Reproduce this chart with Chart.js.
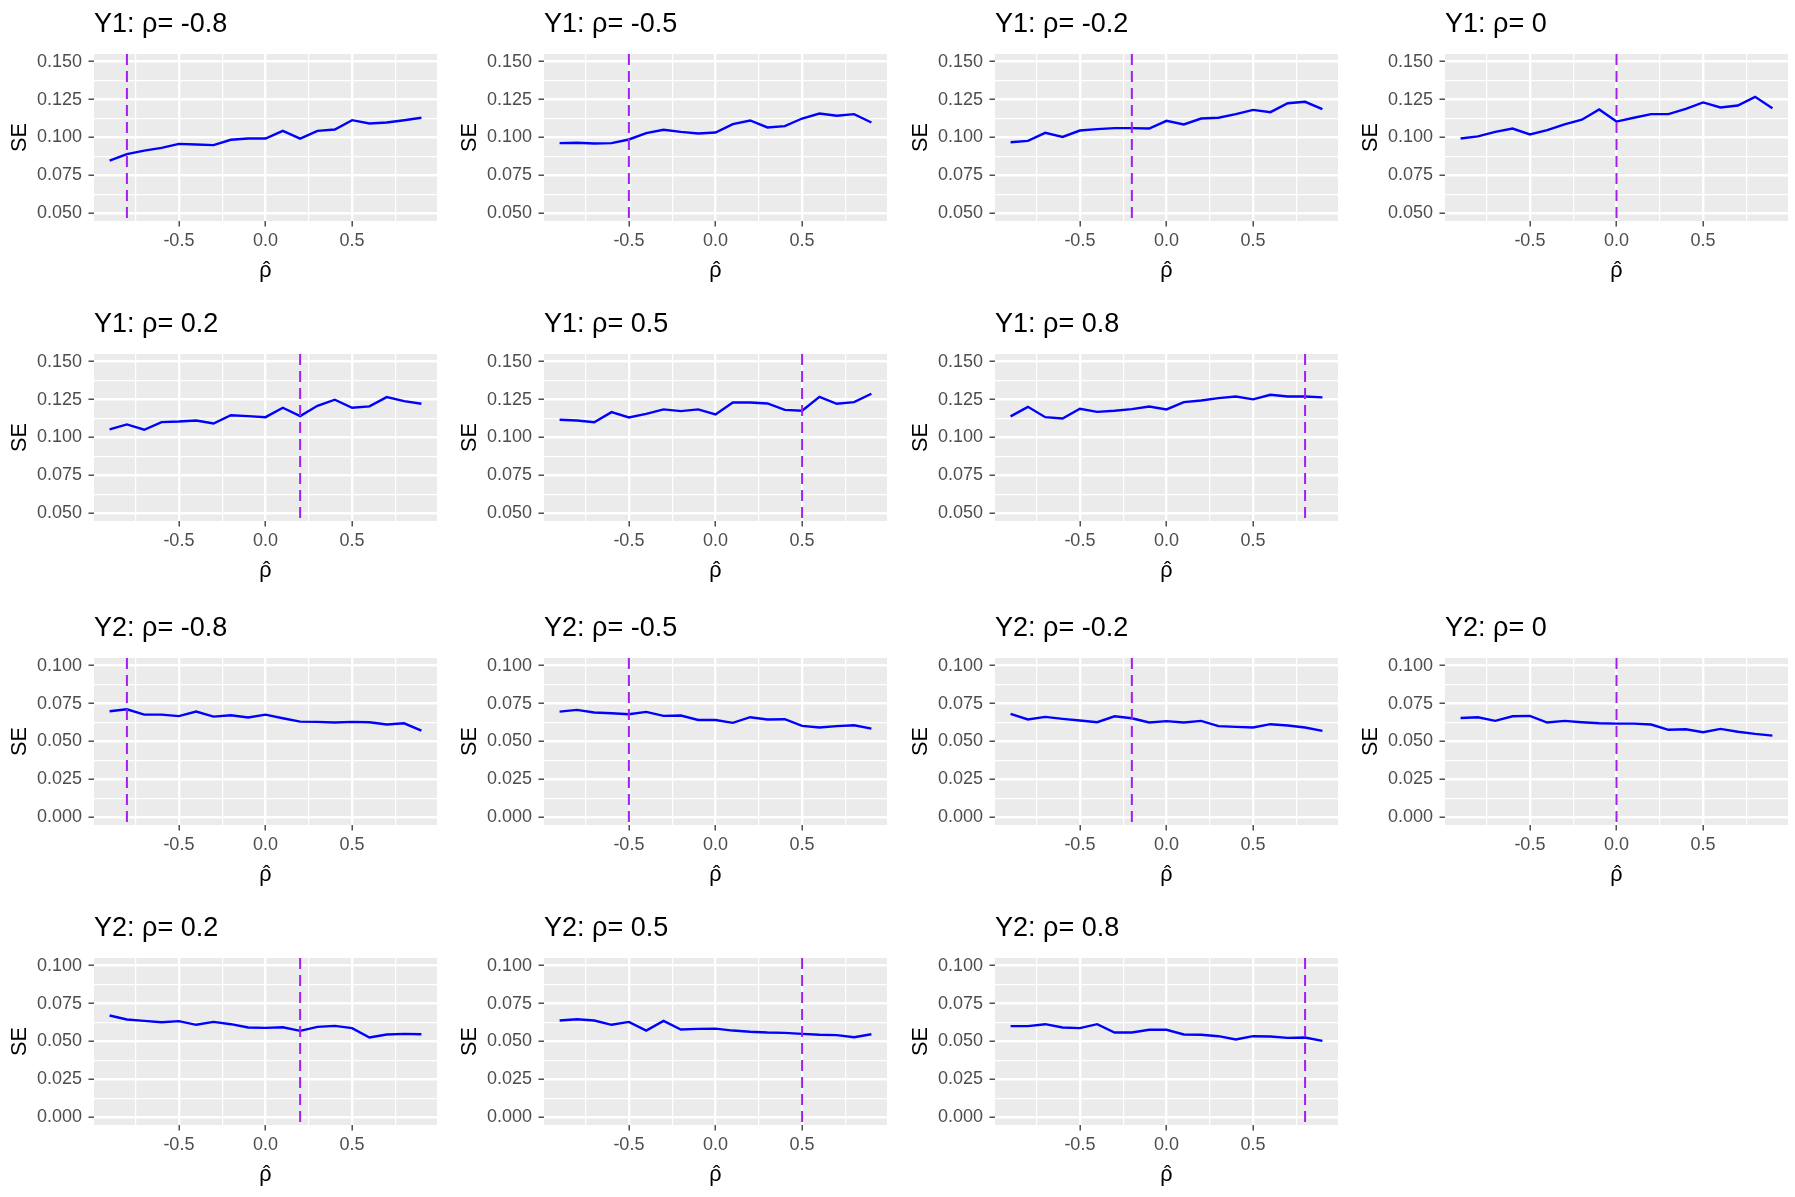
<!DOCTYPE html>
<html>
<head>
<meta charset="utf-8">
<script src="https://cdn.jsdelivr.net/npm/chart.js@4.4.0/dist/chart.umd.min.js"></script>
<style>
  body { margin: 0; background: #fff; overflow: hidden; width: 1795px; height: 1197px; position: relative; }
  .panel { position: absolute; width: 443px; height: 290px; }
</style>
</head>
<body>
<script>
// x values (estimated rho) shared by every panel
var rhoHat = [-0.9, -0.8, -0.7, -0.6, -0.5, -0.4, -0.3, -0.2, -0.1, 0, 0.1, 0.2, 0.3, 0.4, 0.5, 0.6, 0.7, 0.8, 0.9];
var trueRho = [-0.8, -0.5, -0.2, 0, 0.2, 0.5, 0.8];

// SE curves, response Y1
var y1M08 = [0.0848, 0.0890, 0.0914, 0.0932, 0.0958, 0.0954, 0.0950, 0.0985, 0.0993, 0.0993, 0.1044, 0.0993, 0.1044, 0.1053, 0.1114, 0.1092, 0.1099, 0.1114, 0.1130];
var y1M05 = [0.0963, 0.0965, 0.0960, 0.0963, 0.0987, 0.1029, 0.1051, 0.1037, 0.1026, 0.1033, 0.1088, 0.1112, 0.1066, 0.1075, 0.1125, 0.1158, 0.1143, 0.1154, 0.1099];
var y1M02 = [0.0969, 0.0978, 0.1031, 0.1004, 0.1046, 0.1055, 0.1062, 0.1062, 0.1059, 0.1110, 0.1086, 0.1125, 0.1130, 0.1154, 0.1182, 0.1167, 0.1226, 0.1235, 0.1187];
var y1Z = [0.0993, 0.1007, 0.1037, 0.1059, 0.1020, 0.1048, 0.1086, 0.1117, 0.1185, 0.1105, 0.1130, 0.1154, 0.1154, 0.1189, 0.1231, 0.1198, 0.1211, 0.1268, 0.1193];
var y1P02 = [0.1053, 0.1086, 0.1051, 0.1101, 0.1105, 0.1112, 0.1092, 0.1147, 0.1141, 0.1134, 0.1196, 0.1141, 0.1209, 0.1249, 0.1196, 0.1205, 0.1266, 0.1240, 0.1222];
var y1P05 = [0.1117, 0.1112, 0.1101, 0.1167, 0.1132, 0.1156, 0.1185, 0.1174, 0.1185, 0.1152, 0.1231, 0.1231, 0.1224, 0.1182, 0.1176, 0.1268, 0.1222, 0.1233, 0.1288];
var y1P08 = [0.1139, 0.1202, 0.1134, 0.1125, 0.1189, 0.1169, 0.1176, 0.1187, 0.1204, 0.1185, 0.1233, 0.1244, 0.1259, 0.1270, 0.1251, 0.1281, 0.1270, 0.1270, 0.1264];

// SE curves, response Y2
var y2M08 = [0.0699, 0.0712, 0.0677, 0.0677, 0.0667, 0.0697, 0.0664, 0.0673, 0.0658, 0.0677, 0.0653, 0.0631, 0.0629, 0.0625, 0.0629, 0.0627, 0.0612, 0.0620, 0.0572];
var y2M05 = [0.0697, 0.0708, 0.0691, 0.0686, 0.0680, 0.0695, 0.0669, 0.0671, 0.0642, 0.0642, 0.0623, 0.0660, 0.0645, 0.0647, 0.0603, 0.0592, 0.0601, 0.0607, 0.0585];
var y2M02 = [0.0682, 0.0645, 0.0662, 0.0649, 0.0638, 0.0627, 0.0666, 0.0653, 0.0625, 0.0634, 0.0625, 0.0636, 0.0601, 0.0596, 0.0592, 0.0614, 0.0605, 0.0592, 0.0570];
var y2Z = [0.0655, 0.0660, 0.0636, 0.0666, 0.0669, 0.0625, 0.0636, 0.0627, 0.0620, 0.0618, 0.0618, 0.0612, 0.0577, 0.0581, 0.0561, 0.0583, 0.0564, 0.0550, 0.0539];
var y2P02 = [0.0671, 0.0645, 0.0636, 0.0627, 0.0634, 0.0610, 0.0629, 0.0614, 0.0592, 0.0590, 0.0594, 0.0570, 0.0596, 0.0603, 0.0588, 0.0526, 0.0546, 0.0550, 0.0548];
var y2P05 = [0.0638, 0.0647, 0.0638, 0.0610, 0.0629, 0.0572, 0.0636, 0.0579, 0.0583, 0.0585, 0.0572, 0.0564, 0.0559, 0.0557, 0.0550, 0.0544, 0.0542, 0.0528, 0.0548];
var y2P08 = [0.0601, 0.0601, 0.0614, 0.0592, 0.0588, 0.0614, 0.0559, 0.0559, 0.0577, 0.0577, 0.0546, 0.0544, 0.0535, 0.0513, 0.0535, 0.0533, 0.0524, 0.0526, 0.0504];

// tick labels
var xTicks = [-0.5, 0, 0.5];
var y1Ticks = [0.05, 0.075, 0.1, 0.125, 0.15];
var y2Ticks = [0, 0.025, 0.05, 0.075, 0.1];

var y1Series = [y1M08, y1M05, y1M02, y1Z, y1P02, y1P05, y1P08];
var y2Series = [y2M08, y2M05, y2M02, y2Z, y2P02, y2P05, y2P08];

// page layout of the facets
var colLeft = [0, 450, 901, 1351];
var rowTop = [0, 300, 604, 904];
var slots = [[0, 0], [0, 1], [0, 2], [0, 3], [1, 0], [1, 1], [1, 2]];

var FONT = '"Liberation Sans", Arial, Helvetica, sans-serif';
Chart.defaults.font.family = FONT;

// ggplot-like expanded range (5% each side)
function expand(lo, hi) {
    var d = (hi - lo) * 0.05;
    return [lo - d, hi + d];
}

// major ticks plus ggplot minor breaks half-way between them
function withMinor(major, lo, hi) {
    var step = major[1] - major[0];
    var out = [];
    for (var i = -1; i < major.length; i++) {
        if (i >= 0) out.push({value: major[i], minor: false});
        var m = major[0] + (i + 0.5) * step;
        if (m > lo && m < hi) out.push({value: m, minor: true});
    }
    return out;
}

var panelBg = {
    id: 'panelBg',
    beforeDraw: function (chart){
        var a = chart.chartArea, ctx = chart.ctx;
        ctx.save();
        ctx.fillStyle = '#EBEBEB';
        ctx.fillRect(a.left, a.top, a.right - a.left, a.bottom - a.top);
        ctx.restore();
    }
};

var trueLine = {
    id: 'trueLine',
    afterDatasetsDraw: function (chart, args, opts){
        var a = chart.chartArea, ctx = chart.ctx;
        var x = chart.scales.x.getPixelForValue(opts.value);
        ctx.save();
        ctx.beginPath();
        ctx.setLineDash([11, 6]);
        ctx.strokeStyle = '#A020F0';
        ctx.lineWidth = 2;
        ctx.moveTo(x, a.top);
        ctx.lineTo(x, a.bottom);
        ctx.stroke();
        ctx.restore();
    }
};

// facet strip title and the rho-hat axis title
var facetText = {
    id: 'facetText',
    afterDraw: function (chart, args, opts){
        var ctx = chart.ctx, a = chart.chartArea;
        ctx.save();
        ctx.fillStyle = '#000000';
        ctx.textBaseline = 'alphabetic';
        ctx.textAlign = 'left';
        ctx.font = '27px ' + FONT;
        ctx.fillText(opts.text, a.left, 32);
        var cx = (a.left + a.right) / 2;
        ctx.textAlign = 'center';
        ctx.font = '21.6px ' + FONT;
        ctx.fillText('ρ', cx, 277);
        ctx.fillText('ˆ', cx + 1, 277);
        ctx.restore();
    }
};

function gridOpts() {
    return {
        color: '#FFFFFF',
        lineWidth: function (c){ return c.tick && c.tick.minor ? 1.2 : 2.4; },
        tickColor: function (c){ return c.tick && c.tick.minor ? 'rgba(0,0,0,0)' : '#333333'; },
        tickWidth: 1.3,
        tickLength: 5.5,
        drawTicks: true
    };
}

function makePanel(resp, idx, series, yMajor, row0) {
    var slot = slots[idx];
    var div = document.createElement('div');
    div.className = 'panel';
    div.style.left = colLeft[slot[1]] + 'px';
    div.style.top = rowTop[row0 + slot[0]] + 'px';
    var canvas = document.createElement('canvas');
    canvas.width = 443;
    canvas.height = 290;
    div.appendChild(canvas);
    document.body.appendChild(div);

    var xr = expand(rhoHat[0], rhoHat[rhoHat.length - 1]);
    var yr = expand(yMajor[0], yMajor[yMajor.length - 1]);
    var xAll = withMinor(xTicks, xr[0], xr[1]);
    var yAll = withMinor(yMajor, yr[0], yr[1]);

    var pts = rhoHat.map(function (x, i){ return {x: x, y: series[i]}; });

    new Chart(canvas, {
        type: 'line',
        data: {
            datasets: [{
                data: pts,
                borderColor: '#0000FF',
                borderWidth: 2.4,
                pointRadius: 0,
                tension: 0,
                fill: false
            }]
        },
        options: {
            responsive: false,
            animation: false,
            devicePixelRatio: 1,
            layout: {
                padding: {top: 54, right: 6, bottom: 0, left: 0}
            },
            plugins: {
                legend: {display: false},
                tooltip: {enabled: false},
                trueLine: {value: trueRho[idx]},
                facetText: {text: resp + ': ρ= ' + trueRho[idx]}
            },
            scales: {
                x: {
                    type: 'linear',
                    min: xr[0],
                    max: xr[1],
                    afterBuildTicks: function (s){ s.ticks = xAll.map(function (t){ return {value: t.value, minor: t.minor}; }); },
                    afterFit: function (s){ s.height = 69; },
                    grid: gridOpts(),
                    border: {display: false},
                    ticks: {
                        autoSkip: false,
                        maxRotation: 0,
                        padding: 4,
                        color: '#4D4D4D',
                        font: {size: 18},
                        callback: function (v, i, t){ return t[i].minor ? '' : v.toFixed(1); }
                    }
                },
                y: {
                    type: 'linear',
                    min: yr[0],
                    max: yr[1],
                    afterBuildTicks: function (s){ s.ticks = yAll.map(function (t){ return {value: t.value, minor: t.minor}; }); },
                    afterFit: function (s){ s.width = 94; },
                    grid: gridOpts(),
                    border: {display: false},
                    ticks: {
                        autoSkip: false,
                        padding: 6.5,
                        color: '#4D4D4D',
                        font: {size: 18},
                        callback: function (v, i, t){ return t[i].minor ? '' : v.toFixed(3); }
                    },
                    title: {
                        display: true,
                        text: 'SE',
                        color: '#000000',
                        font: {size: 21.6},
                        padding: {top: 7, bottom: 0}
                    }
                }
            }
        },
        plugins: [panelBg, trueLine, facetText]
    });
}

y1Series.forEach(function (s, i){ makePanel('Y1', i, s, y1Ticks, 0); });
y2Series.forEach(function (s, i){ makePanel('Y2', i, s, y2Ticks, 2); });
</script>
</body>
</html>
